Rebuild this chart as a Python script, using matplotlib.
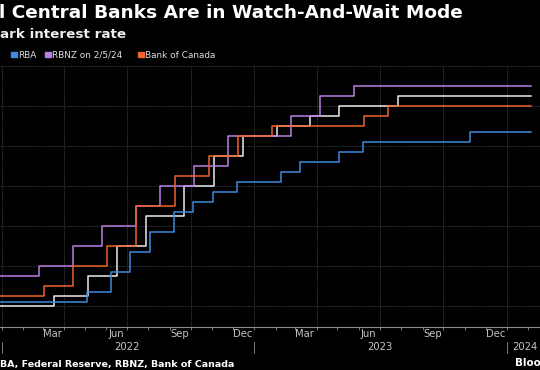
import matplotlib
matplotlib.use("Agg")
import matplotlib.pyplot as plt
import matplotlib.dates as mdates
import matplotlib.transforms as mtransforms
from matplotlib.patches import Rectangle
import pandas as pd


# Policy rates, stepped on the day after each decision (chart ends 2/5/24)
start_date = "2021-12-01"
end_date = "2024-02-05"

fed_dates = ["2021-12-01", "2022-03-17", "2022-05-05", "2022-06-16", "2022-07-28",
             "2022-09-22", "2022-11-03", "2022-12-15", "2023-02-02", "2023-03-23",
             "2023-05-04", "2023-07-27"]
fed_rates = [0.0, 0.25, 0.75, 1.50, 2.25, 3.00, 3.75, 4.25, 4.50, 4.75, 5.00, 5.25]

rba_dates = ["2021-12-01", "2022-05-04", "2022-06-08", "2022-07-06", "2022-08-03",
             "2022-09-07", "2022-10-05", "2022-11-02", "2022-12-07", "2023-02-08",
             "2023-03-08", "2023-05-03", "2023-06-07", "2023-11-08"]
rba_rates = [0.10, 0.35, 0.85, 1.35, 1.85, 2.35, 2.60, 2.85, 3.10, 3.35, 3.60, 3.85,
             4.10, 4.35]

rbnz_dates = ["2021-12-01", "2022-02-24", "2022-04-14", "2022-05-26", "2022-07-14",
              "2022-08-18", "2022-10-06", "2022-11-24", "2023-02-23", "2023-04-06",
              "2023-05-25"]
rbnz_rates = [0.75, 1.00, 1.50, 2.00, 2.50, 3.00, 3.50, 4.25, 4.75, 5.25, 5.50]

boc_dates = ["2021-12-01", "2022-03-03", "2022-04-14", "2022-06-02", "2022-07-14",
             "2022-09-08", "2022-10-27", "2022-12-08", "2023-01-26", "2023-06-08",
             "2023-07-13"]
boc_rates = [0.25, 0.50, 1.00, 1.50, 2.50, 3.25, 3.75, 4.25, 4.50, 4.75, 5.00]

month_labels = ["Mar", "Jun", "Sep", "Dec", "Mar", "Jun", "Sep", "Dec"]
month_label_dates = ["2022-03-15", "2022-06-15", "2022-09-15", "2022-12-15",
                     "2023-03-15", "2023-06-15", "2023-09-15", "2023-12-15"]
year_labels = ["2022", "2023"]
year_label_dates = ["2022-07-01", "2023-07-01"]
year_starts = ["2022-01-01", "2023-01-01", "2024-01-01"]

legend_labels = ["RBA", "RBNZ on 2/5/24", "Bank of Canada"]
legend_colors = ["#3f8ae0", "#b67fe6", "#f2622b"]

W, H = 540, 370


def fx(px):
    return px / W


def fy(py):
    return 1 - py / H


def step_series(dates, rates):
    s = pd.Series(rates, index=pd.to_datetime(dates))
    s[pd.Timestamp(end_date)] = rates[-1]
    return s


fig = plt.figure(figsize=(W / 100, H / 100), dpi=100, facecolor="black")
ax_bottom, ax_top = 326.5, 66
ax = fig.add_axes([0, fy(ax_bottom), 1, (ax_bottom - ax_top) / H])
ax.set_facecolor("black")

series = [
    (fed_dates, fed_rates, "#ececec"),
    (rba_dates, rba_rates, legend_colors[0]),
    (rbnz_dates, rbnz_rates, legend_colors[1]),
    (boc_dates, boc_rates, legend_colors[2]),
]
for dates, rates, color in series:
    s = step_series(dates, rates)
    ax.plot(s.index, s.values, drawstyle="steps-post", color=color, lw=1.1)

# x range: 1 Jan 2022 sits ~1.7 px from the left edge, ~0.692 px per day
x0 = mdates.date2num(pd.Timestamp("2022-01-01")) - 1.7 / 0.6922
ax.set_xlim(x0, x0 + W / 0.6922)
ax.set_ylim(-0.52, 6.0)

ax.set_yticks(range(0, 7))
ax.xaxis.set_major_locator(mdates.MonthLocator(bymonth=[1, 4, 7, 10]))
ax.xaxis.set_minor_locator(mdates.MonthLocator())
ax.grid(axis="both", which="major", color="#363636", lw=0.6, linestyle=(0, (2, 1)))
ax.tick_params(axis="y", length=0, labelleft=False)
ax.tick_params(axis="x", which="both", length=2.5, width=0.6, color="#8c8c8c",
               labelbottom=False)
for side in ["left", "right", "top"]:
    ax.spines[side].set_visible(False)
ax.spines["bottom"].set_color("#8c8c8c")
ax.spines["bottom"].set_linewidth(0.8)

trans = mtransforms.blended_transform_factory(ax.transData, ax.transAxes)
ax_h = ax_bottom - ax_top
for lab, d in zip(month_labels, month_label_dates):
    ax.text(pd.Timestamp(d), -(334 - ax_bottom) / ax_h, lab, transform=trans,
            ha="center", va="center", fontsize=7.2, color="#c4c4c4")
for lab, d in zip(year_labels, year_label_dates):
    ax.text(pd.Timestamp(d), -(347.5 - ax_bottom) / ax_h, lab, transform=trans,
            ha="center", va="center", fontsize=7.2, color="#c4c4c4")
ax.text(pd.Timestamp("2024-01-08"), -(347.5 - ax_bottom) / ax_h, "2024",
        transform=trans, ha="left", va="center", fontsize=7.2, color="#c4c4c4")
for d in year_starts:
    ax.plot([pd.Timestamp(d)] * 2, [-(342 - ax_bottom) / ax_h, -(353 - ax_bottom) / ax_h],
            transform=trans, color="#8c8c8c", lw=0.6, clip_on=False)

# titles
fig.text(fx(-1), fy(18.3), "l Central Banks Are in Watch-And-Wait Mode",
         fontsize=13.3, fontweight="bold", color="white", va="baseline")
fig.text(fx(0), fy(37.7), "ark interest rate", fontsize=9.7, fontweight="bold",
         color="#eeeeee", va="baseline")

# legend
legend_x = [11, 45, 138]
for lx, lab, col in zip(legend_x, legend_labels, legend_colors):
    fig.patches.append(Rectangle((fx(lx), fy(57)), fx(5.5), 5.5 / H,
                                 transform=fig.transFigure, color=col))
    fig.text(fx(lx + 7), fy(57.5), lab, fontsize=6.4, color="#dddddd", va="baseline")

# footer
fig.text(fx(0), fy(366.5), "BA, Federal Reserve, RBNZ, Bank of Canada",
         fontsize=6.8, fontweight="bold", color="white", va="baseline")
fig.text(fx(515), fy(366.5), "Bloo", fontsize=7.4, fontweight="bold",
         color="white", va="baseline")

fig.savefig("out.png", dpi=100, facecolor="black")
